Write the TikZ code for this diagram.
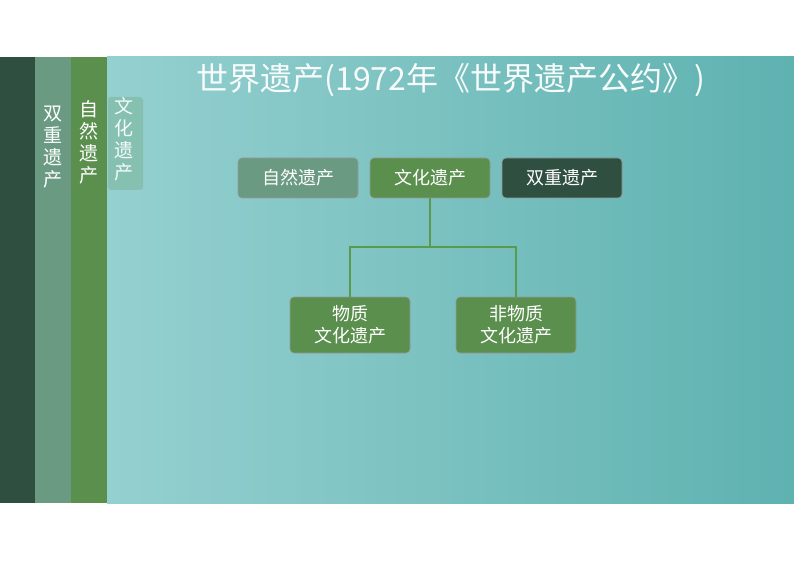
\documentclass[tikz,border=0pt]{standalone}
\usepackage{fontspec}
\newfontfamily\cjk{Noto Sans CJK SC}
\definecolor{dk}{HTML}{2F4F40}
\definecolor{gg}{HTML}{6A9A82}
\definecolor{gr}{HTML}{5A8F4E}
\definecolor{tl}{HTML}{95D0D0}
\definecolor{tr}{HTML}{5EB2B0}
\definecolor{ln}{HTML}{5A9A4E}
\tikzset{box/.style={rounded corners=4pt,minimum width=120pt,minimum height=40pt,text=white,font=\cjk\fontsize{18}{22}\selectfont,align=center,draw=black!40,line width=0.6pt},
tab/.style={text=white,font=\cjk\fontsize{19}{22}\selectfont,align=center,text width=20pt}}
\begin{document}
\begin{tikzpicture}[x=1pt,y=-1pt]
\useasboundingbox (0,0) rectangle (794,561);
\fill[white] (0,0) rectangle (794,561);
\shade[left color=tl,right color=tr] (107,57) rectangle (794,503);
\fill[dk] (0,57) rectangle (35,503);
\fill[gg] (35,57) rectangle (71,503);
\fill[gr] (71,57) rectangle (107,503);
\fill[tl!60!gr,opacity=0.6,rounded corners=3pt] (108,97) rectangle (143,190);
\node[tab] (t1) at (53,147) {双\\重\\遗\\产};
\node[tab] (t2) at (89,142) {自\\然\\遗\\产};
\node[tab,text=white!90!tl] (t3) at (124,139) {文\\化\\遗\\产};
\node[text=white!92!tl,font=\cjk\fontsize{32}{36}\selectfont,anchor=west] (title) at (193,80) {世界遗产(1972年《世界遗产公约》)};
\node[box,fill=gg] (n) at (298,178) {自然遗产};
\node[box,fill=gr] (c) at (430,178) {文化遗产};
\node[box,fill=dk] (d) at (562,178) {双重遗产};
\node[box,fill=gr,minimum height=56pt] (m) at (350,325) {物质\\文化遗产};
\node[box,fill=gr,minimum height=56pt] (f) at (516,325) {非物质\\文化遗产};
\coordinate (j) at (430,247);
\draw[ln,line width=1.5pt] (c.south) -- (j) (m.north) |- (j) -| (f.north);
\end{tikzpicture}
\end{document}
